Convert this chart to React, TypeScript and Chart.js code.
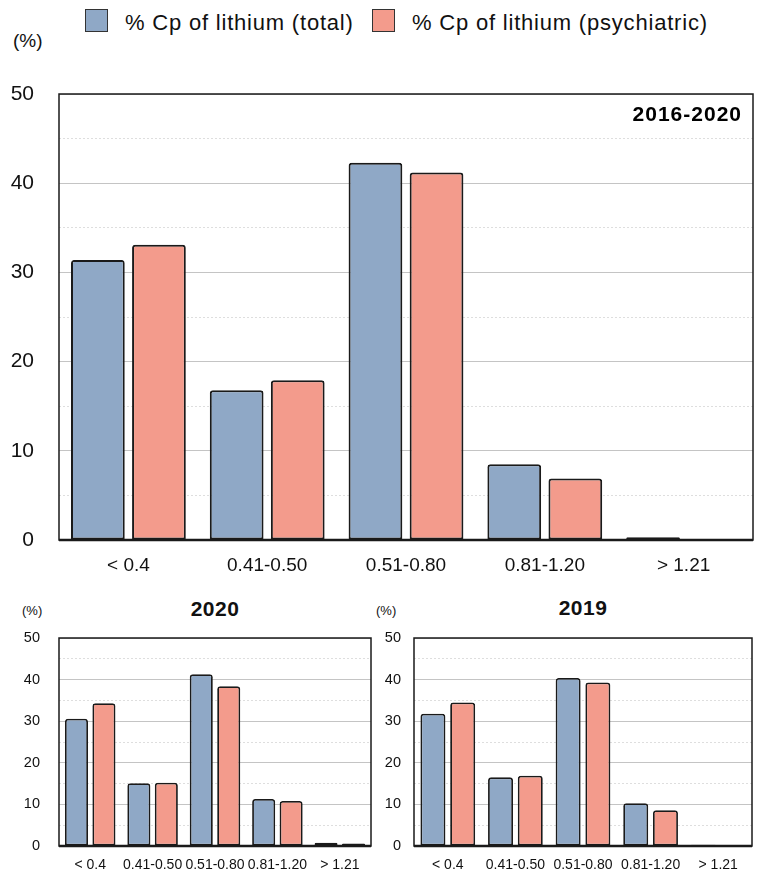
import React, { useEffect, useRef } from 'react';
import { Chart, registerables } from 'chart.js';

Chart.register(...registerables);

// ---- data ----
const categories = ['< 0.4', '0.41-0.50', '0.51-0.80', '0.81-1.20', '> 1.21'];
const seriesLabels = ['% Cp of lithium (total)', '% Cp of lithium (psychiatric)'];
const total2016to2020 = [31.4, 16.8, 42.3, 8.5, 0.3];
const psych2016to2020 = [33.1, 17.9, 41.2, 6.9, 0.1];
const total2020 = [30.6, 15.1, 41.3, 11.3, 0.8];
const psych2020 = [34.3, 15.2, 38.4, 10.8, 0.6];
const total2019 = [31.8, 16.5, 40.4, 10.3, 0.3];
const psych2019 = [34.5, 16.9, 39.3, 8.6, 0];
const yMax = 50;
const yStep = 5;
const yLabelEvery = 10;

const colors = ['#8FA8C6', '#F39B8C'];
const FONT = "'Liberation Sans', Arial, sans-serif";

const framePlugin = {
  id: 'frame',
  afterDatasetsDraw(chart: any) {
    const { ctx, chartArea } = chart;
    const { left, top, right, bottom } = chartArea;
    ctx.save();
    ctx.strokeStyle = '#1a1a1a';
    ctx.lineWidth = 1.5;
    ctx.strokeRect(left, top, right - left, bottom - top);
    ctx.lineWidth = 2.5;
    ctx.beginPath();
    ctx.moveTo(left, bottom);
    ctx.lineTo(right, bottom);
    ctx.stroke();
    const t = chart.options.plugins?.cornerTitle;
    if (t && t.text) {
      ctx.fillStyle = '#000';
      ctx.font = `bold ${t.size}px ${FONT}`;
      (ctx as any).letterSpacing = `${t.spacing}px`;
      ctx.textAlign = 'right';
      ctx.textBaseline = 'middle';
      ctx.fillText(t.text, right - t.dx, top + t.dy);
    }
    ctx.restore();
  },
};

type Spec = {
  total: number[];
  psych: number[];
  left: number;
  top: number;
  width: number;
  height: number;
  padding: { top: number; right: number; left: number; bottom: number };
  yWidth: number;
  xHeight: number;
  yFont: number;
  xFont: number;
  yPad: number;
  xPad: number;
  catPct: number;
  barPct: number;
  barBorder: number;
  cornerTitle?: { text: string; size: number; dx: number; dy: number; spacing: number };
};

function BarChart({ spec }: { spec: Spec }) {
  const ref = useRef<HTMLCanvasElement>(null);
  useEffect(() => {
    const mk = (label: string, data: number[], color: string) => ({
      label,
      data,
      backgroundColor: color,
      borderColor: '#1a1a1a',
      borderWidth: spec.barBorder,
      borderSkipped: false as any,
      borderRadius: { topLeft: 3, topRight: 3, bottomLeft: 0, bottomRight: 0 },
      categoryPercentage: spec.catPct,
      barPercentage: spec.barPct,
    });
    const chart = new Chart(ref.current as HTMLCanvasElement, {
      type: 'bar',
      data: {
        labels: categories,
        datasets: [mk(seriesLabels[0], spec.total, colors[0]), mk(seriesLabels[1], spec.psych, colors[1])],
      },
      options: {
        animation: false,
        responsive: false,
        maintainAspectRatio: false,
        layout: { padding: spec.padding },
        plugins: {
          legend: { display: false },
          tooltip: { enabled: false },
          title: { display: false },
          cornerTitle: spec.cornerTitle,
        } as any,
        scales: {
          x: {
            grid: { display: false, drawTicks: false },
            border: { display: false },
            ticks: {
              font: { family: FONT, size: spec.xFont },
              color: '#111',
              padding: spec.xPad,
              maxRotation: 0,
              autoSkip: false,
            },
            afterFit: (s: any) => {
              s.height = spec.xHeight;
              s.paddingLeft = 0;
              s.paddingRight = 0;
            },
          },
          y: {
            min: 0,
            max: yMax,
            ticks: {
              stepSize: yStep,
              callback: (v: any) => (Number(v) % yLabelEvery === 0 ? String(v) : ''),
              font: { family: FONT, size: spec.yFont },
              color: '#111',
              padding: spec.yPad,
            },
            grid: {
              drawTicks: false,
              lineWidth: 1,
              color: (c: any) =>
                c.tick && c.tick.value % yLabelEvery !== 0 ? '#dedede' : '#c4c4c4',
            },
            border: {
              display: false,
              dash: (c: any) => (c.tick && c.tick.value % yLabelEvery !== 0 ? [2, 2] : []),
            },
            afterFit: (s: any) => {
              s.width = spec.yWidth;
              s.paddingTop = 0;
              s.paddingBottom = 0;
            },
          } as any,
        },
      },
      plugins: [framePlugin],
    });
    return () => chart.destroy();
  }, []);
  return (
    <canvas
      ref={ref}
      width={spec.width}
      height={spec.height}
      style={{
        position: 'absolute',
        left: spec.left,
        top: spec.top,
        width: spec.width,
        height: spec.height,
      }}
    />
  );
}

const topSpec: Spec = {
  total: total2016to2020,
  psych: psych2016to2020,
  left: 0,
  top: 80,
  width: 759,
  height: 500,
  padding: { top: 14, right: 6, left: 0, bottom: 0 },
  yWidth: 59,
  xHeight: 40,
  yFont: 21,
  xFont: 19,
  yPad: 25,
  xPad: 14,
  catPct: 0.88,
  barPct: 0.88,
  barBorder: 2,
  cornerTitle: { text: '2016-2020', size: 21, dx: 11, dy: 21, spacing: 1 },
};

const leftSpec: Spec = {
  total: total2020,
  psych: psych2020,
  left: 0,
  top: 620,
  width: 380,
  height: 259,
  padding: { top: 18, right: 9, left: 0, bottom: 0 },
  yWidth: 59,
  xHeight: 33,
  yFont: 14.5,
  xFont: 14,
  yPad: 19,
  xPad: 11,
  catPct: 0.88,
  barPct: 0.84,
  barBorder: 1.8,
};

const rightSpec: Spec = {
  total: total2019,
  psych: psych2019,
  left: 380,
  top: 620,
  width: 379,
  height: 259,
  padding: { top: 18, right: 7, left: 0, bottom: 0 },
  yWidth: 34,
  xHeight: 33,
  yFont: 14.5,
  xFont: 14,
  yPad: 13,
  xPad: 11,
  catPct: 0.88,
  barPct: 0.84,
  barBorder: 1.8,
};

const txt = (s: React.CSSProperties): React.CSSProperties => ({
  position: 'absolute',
  fontFamily: FONT,
  color: '#111',
  whiteSpace: 'nowrap',
  lineHeight: 1,
  ...s,
});

export default function App() {
  return (
    <div
      style={{
        position: 'absolute',
        left: 0,
        top: 0,
        width: 759,
        height: 879,
        background: '#fff',
        overflow: 'hidden',
      }}
    >
      {/* legend */}
      <div style={{ position: 'absolute', left: 85, top: 9, width: 21, height: 21, background: colors[0], border: '1.5px solid #333' }} />
      <div style={txt({ left: 125, top: 12, fontSize: 22, letterSpacing: 0.8 })}>{seriesLabels[0]}</div>
      <div style={{ position: 'absolute', left: 372, top: 9, width: 21, height: 21, background: colors[1], border: '1.5px solid #333' }} />
      <div style={txt({ left: 412, top: 12, fontSize: 22, letterSpacing: 0.8 })}>{seriesLabels[1]}</div>
      <div style={txt({ left: 13, top: 31, fontSize: 19 })}>(%)</div>

      <BarChart spec={topSpec} />

      <div style={txt({ left: 22, top: 604, fontSize: 13 })}>(%)</div>
      <div style={txt({ left: 165, top: 598, width: 100, textAlign: 'center', fontSize: 21, fontWeight: 'bold', letterSpacing: 0.5 })}>2020</div>
      <BarChart spec={leftSpec} />

      <div style={txt({ left: 376, top: 604, fontSize: 13 })}>(%)</div>
      <div style={txt({ left: 533, top: 597, width: 100, textAlign: 'center', fontSize: 21, fontWeight: 'bold', letterSpacing: 0.5 })}>2019</div>
      <BarChart spec={rightSpec} />
    </div>
  );
}
